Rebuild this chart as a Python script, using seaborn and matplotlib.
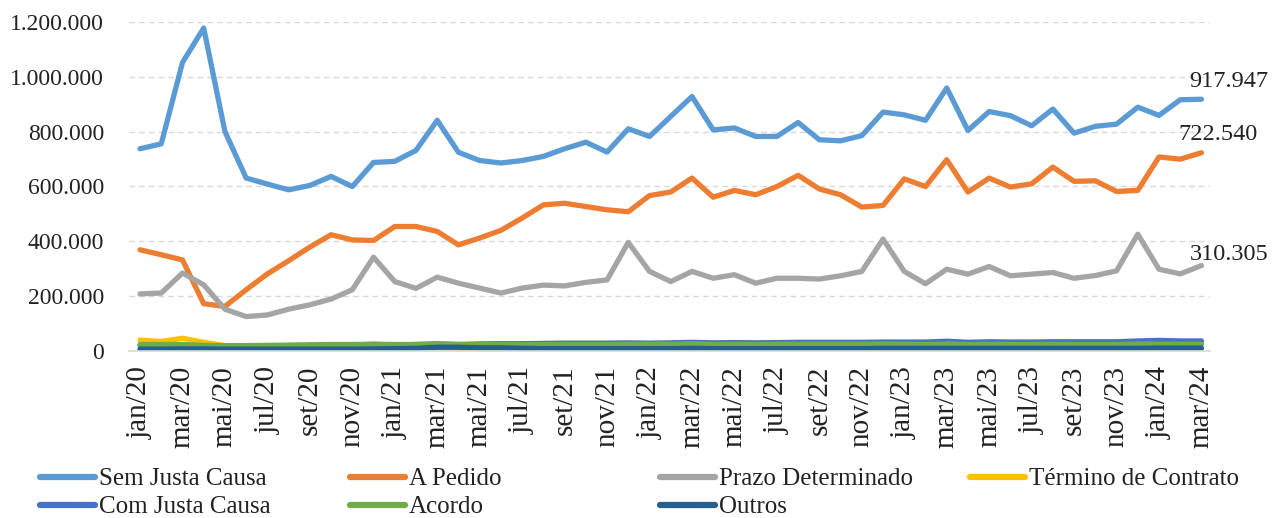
import matplotlib
matplotlib.use("Agg")
import matplotlib.pyplot as plt
import matplotlib.ticker as mticker
from matplotlib.lines import Line2D
import seaborn as sns
import pandas as pd
import numpy as np

# ---------------- data ----------------
months_pt = ["jan", "fev", "mar", "abr", "mai", "jun", "jul", "ago", "set", "out", "nov", "dez"]
periods = [f"{m}/{y}" for y in ["20", "21", "22", "23"] for m in months_pt] + ["jan/24", "fev/24", "mar/24"]

sem_justa_causa = [737, 755, 1052, 1178, 800, 630, 608, 587, 603, 636, 599, 687,
                   691, 731, 841, 724, 694, 685, 694, 709, 737, 761, 725, 810,
                   782, 855, 928, 806, 813, 782, 782, 833, 770, 766, 785, 871,
                   861, 841, 959, 804, 873, 858, 821, 882, 794, 819, 827, 889,
                   859, 916, 917.947]
a_pedido = [368, 350, 331, 171, 161, 222, 280, 328, 378, 423, 404, 402,
            453, 453, 435, 386, 411, 439, 484, 532, 538, 526, 514, 507,
            566, 579, 630, 560, 585, 569, 599, 640, 590, 569, 524, 530,
            627, 599, 697, 579, 630, 597, 609, 670, 618, 620, 581, 585,
            707, 699, 722.540]
prazo_determinado = [207, 210, 283, 240, 151, 124, 130, 151, 167, 188, 222, 341,
                     252, 227, 268, 246, 228, 210, 228, 239, 236, 249, 258, 395,
                     289, 252, 289, 264, 277, 246, 264, 264, 261, 273, 289, 407,
                     289, 244, 297, 279, 307, 273, 279, 285, 264, 274, 291, 425,
                     297, 280, 310.305]
termino_contrato = [38, 33, 45, 30, 18, 15, 14, 14, 14, 16, 18, 24,
                    16, 14, 10, 8, 6, 5, 4, 3, 3, 2, 2, 2,
                    2, 2, 2, 2, 2, 2, 2, 2, 2, 2, 3, 8,
                    2, 1, 1, 1, 1, 1, 1, 1, 1, 1, 1, 1,
                    1, 1, 1]
com_justa_causa = [18, 18, 16, 14, 14, 15, 16, 17, 18, 19, 19, 20,
                   20, 22, 24, 22, 24, 25, 25, 26, 27, 27, 27, 28,
                   27, 28, 30, 28, 29, 28, 29, 30, 30, 30, 30, 31,
                   31, 31, 34, 30, 32, 31, 31, 32, 32, 32, 32, 35,
                   37, 35, 35]
acordo = [22, 22, 22, 19, 18, 18, 19, 20, 21, 22, 22, 23,
          22, 22, 24, 22, 22, 22, 22, 22, 22, 22, 22, 23,
          23, 23, 25, 22, 23, 22, 23, 23, 23, 23, 23, 24,
          23, 22, 24, 22, 23, 22, 22, 23, 22, 22, 22, 24,
          23, 23, 23]
outros = [5, 5, 6, 6, 5, 5, 5, 5, 5, 5, 5, 6,
          7, 8, 12, 12, 10, 10, 8, 7, 7, 7, 7, 7,
          7, 7, 8, 7, 7, 7, 7, 7, 7, 7, 7, 8,
          8, 8, 8, 8, 8, 8, 8, 8, 8, 8, 8, 8,
          9, 9, 9]

series_names = ["Sem Justa Causa", "A Pedido", "Prazo Determinado", "Término de Contrato",
                "Com Justa Causa", "Acordo", "Outros"]
series_values = [sem_justa_causa, a_pedido, prazo_determinado, termino_contrato,
                 com_justa_causa, acordo, outros]
colors = ["#5B9BD5", "#ED7D31", "#A5A5A5", "#FFC000", "#4472C4", "#70AD47", "#255E91"]

rows = []
for name, vals in zip(series_names, series_values):
    for i, v in enumerate(vals):
        rows.append({"idx": i, "periodo": periods[i], "serie": name, "valor": v * 1000})
df = pd.DataFrame(rows)

# ---------------- plot ----------------
sns.set_theme(style="white")
plt.rcParams["font.family"] = ["Liberation Serif", "DejaVu Serif"]

fig = plt.figure(figsize=(12.77, 5.18), dpi=100)
ax = fig.add_axes([0.101, 0.3233, 0.8465, 0.6342])

sns.lineplot(data=df, x="idx", y="valor", hue="serie", hue_order=series_names,
             palette=colors, linewidth=3.8, ax=ax, legend=False, sort=False,
             solid_capstyle="round", solid_joinstyle="round")

ax.set_ylim(0, 1200000)
ax.set_xlim(-0.52, 50.4)
ax.yaxis.set_major_locator(mticker.MultipleLocator(200000))
ax.yaxis.set_major_formatter(mticker.FuncFormatter(lambda v, p: f"{int(v):,}".replace(",", ".")))
ax.yaxis.grid(True, linestyle=(0, (4, 3)), color="#D9D9D9", linewidth=1)
ax.xaxis.grid(False)
ax.set_axisbelow(True)

tick_idx = list(range(0, len(periods), 2))
ax.set_xticks(tick_idx)
ax.set_xticklabels([periods[i] for i in tick_idx], rotation=90, fontsize=21, color="#222222")
ax.tick_params(axis="x", length=0, pad=11)
ax.tick_params(axis="y", length=0, pad=18, labelsize=17, labelcolor="#222222")
ax.set_xlabel("")
ax.set_ylabel("")

for s in ["top", "right", "left"]:
    ax.spines[s].set_visible(False)
ax.spines["bottom"].set_color("#D9D9D9")
ax.spines["bottom"].set_linewidth(1.2)

# data labels on last points
last = len(periods) - 1
label_offsets = [(20, 13), (12, 13), (20, 8), None, None, None, None]
for name, vals, off in zip(series_names, series_values, label_offsets):
    if off is None:
        continue
    v = vals[last] * 1000
    ax.annotate(f"{v:,.0f}".replace(",", "."), xy=(last, v), xytext=off,
                textcoords="offset points", ha="center", va="center",
                fontsize=17.5, color="#222222")

# legend: 4 equal-width columns, row-major order
handles = {n: Line2D([0], [0], color=c, linewidth=4.5, solid_capstyle="round")
           for n, c in zip(series_names, colors)}
columns = [["Sem Justa Causa", "Com Justa Causa"], ["A Pedido", "Acordo"],
           ["Prazo Determinado", "Outros"], ["Término de Contrato"]]
col_x = [40 / 1277, 350 / 1277, 660 / 1277, 970 / 1277]
for cx, col in zip(col_x, columns):
    fig.legend(handles=[handles[n] for n in col], labels=col, loc="upper left",
               bbox_to_anchor=(cx, 0.097), frameon=False, fontsize=18,
               handlelength=2.2, handletextpad=0.15, labelspacing=0.22,
               borderaxespad=0, borderpad=0, labelcolor="#222222")

fig.savefig("out.png", dpi=100)
